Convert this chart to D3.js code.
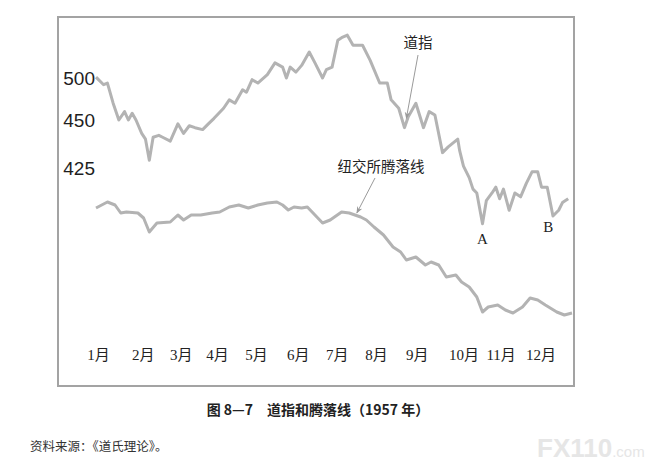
<!DOCTYPE html>
<html>
<head>
<meta charset="utf-8">
<script src="https://cdn.jsdelivr.net/npm/d3@7"></script>
<style>
  body { margin: 0; background: #fff; }
  svg { display: block; }
</style>
</head>
<body>
<div id="chart"></div>
<script>
// trading-day index (0..250) for each point
var dowDays = [0, 4, 6, 9, 12, 15, 17, 19, 21, 24, 26, 28, 30, 33, 35, 39, 43, 46, 49, 52,
    56, 59, 62, 67, 70, 73, 77, 79, 82, 85, 90, 94, 98, 100, 102, 105, 108, 112, 115, 119,
    121, 124, 127, 129, 132, 135, 140, 144, 149, 153, 155, 159, 162, 164, 168, 172, 175, 178,
    182, 185, 190, 191, 193, 196, 198, 200, 203, 205, 208, 210, 212, 214, 217, 220, 223,
    226, 229, 232, 234, 237, 240, 243, 245, 248];
var dowValues = [501, 492, 494, 470, 450, 460, 450, 458, 450, 443, 440, 429, 441, 442, 441, 439, 448, 443, 447, 446,
    445, 448, 452, 464, 474, 470, 486, 483, 498, 494, 504, 518, 513, 500, 513, 507, 515, 531, 518, 500,
    510, 513, 545, 548, 551, 539, 539, 521, 494, 494, 474, 464, 446, 454, 470, 446, 460, 456,
    433, 436, 440, 434, 426, 420, 414, 412, 396, 408, 412, 415, 409, 414, 403, 412, 410,
    417, 423, 423, 415, 415, 400, 403, 407, 409];

var adDays = [0, 6, 10, 13, 16, 22, 25, 28, 32, 39, 43, 46, 50, 55, 61, 65, 70, 75, 80, 85,
    90, 95, 98, 101, 104, 108, 111, 114, 119, 123, 129, 133, 139, 142, 146, 151, 156, 160,
    163, 168, 173, 176, 180, 184, 189, 192, 196, 200, 203, 206, 211, 215, 219, 224, 228,
    232, 236, 242, 246, 250];
var adValues = [0.5, 3.5, 2, -2, -1.5, -2, -4.5, -11.5, -7, -6.5, -3, -5.5, -3, -3, -2, -1.5, 1, 2, 0.5, 2,
    3, 3.5, 2, -0.5, 1, 0.5, 1, -2, -7, -5.5, -1.5, -2, -4, -5.5, -9, -13, -19, -21.5,
    -25.5, -24, -28, -26.5, -28, -34, -33, -36.5, -39, -44, -51.5, -49, -48, -50.5, -52, -49, -44.5,
    -45.5, -48, -51.5, -53, -52];

var monthLabels = ["1月", "2月", "3月", "4月", "5月", "6月", "7月", "8月", "9月", "10月", "11月", "12月"];
var monthDays = [1, 24.5, 44.5, 63.5, 84, 106, 126.5, 147, 168.5, 193, 212.5, 233.5];
var dowTicks = [500, 450, 425];

var svgWidth = 649;
var svgHeight = 466;

var svg = d3.select("#chart")
    .append("svg")
    .attr("width", svgWidth)
    .attr("height", svgHeight);

var serif = "'Liberation Serif', 'Noto Sans CJK SC', serif";
var cjk = "'Noto Sans CJK SC', 'Liberation Serif', sans-serif";

// frame
svg.append("rect")
    .attr("x", 58)
    .attr("y", 17)
    .attr("width", 516)
    .attr("height", 369)
    .attr("fill", "none")
    .attr("stroke", "#a3a3a3")
    .attr("stroke-width", 2);

var xScale = d3.scaleLinear()
    .domain([0, 250])
    .range([96, 572]);

// the printed scale is not even, so use a piecewise scale through the labels
var yDow = d3.scaleLinear()
    .domain([425, 450, 500])
    .range([168, 120, 78]);

var yAD = d3.scaleLinear()
    .domain([0, -60])
    .range([209, 329]);

var leftAxis = d3.axisLeft(yDow)
    .tickValues(dowTicks)
    .tickSize(0)
    .tickPadding(1);

var yAxis = svg.append("g")
    .attr("transform", "translate(96, 0)")
    .call(leftAxis);
yAxis.select(".domain").remove();
yAxis.selectAll("text")
    .attr("font-family", "'Liberation Sans', sans-serif")
    .attr("font-size", 19)
    .attr("fill", "#1e1e1e");

var bottomAxis = d3.axisBottom(xScale)
    .tickValues(monthDays)
    .tickFormat((d, i) => monthLabels[i])
    .tickSize(0)
    .tickPadding(0);

var xAxis = svg.append("g")
    .attr("transform", "translate(0, 349)")
    .call(bottomAxis);
xAxis.select(".domain").remove();
xAxis.selectAll("text")
    .attr("font-family", serif)
    .attr("font-size", 15)
    .attr("fill", "#222");

var dowLine = d3.line()
    .x((d, i) => xScale(dowDays[i]))
    .y(d => yDow(d));

var adLine = d3.line()
    .x((d, i) => xScale(adDays[i]))
    .y(d => yAD(d));

svg.append("path")
    .attr("d", dowLine(dowValues))
    .attr("fill", "none")
    .attr("stroke", "#b3b3b3")
    .attr("stroke-width", 3)
    .attr("stroke-linejoin", "round");

svg.append("path")
    .attr("d", adLine(adValues))
    .attr("fill", "none")
    .attr("stroke", "#b3b3b3")
    .attr("stroke-width", 3)
    .attr("stroke-linejoin", "round");

// arrow marker
svg.append("defs").append("marker")
    .attr("id", "arrow")
    .attr("viewBox", "0 0 10 10")
    .attr("refX", 9)
    .attr("refY", 5)
    .attr("markerWidth", 7)
    .attr("markerHeight", 7)
    .attr("orient", "auto")
    .append("path")
    .attr("d", "M0,1 L10,5 L0,9 L3,5 Z")
    .attr("fill", "#9a9a9a");

// annotations, anchored to data points
var dowNote = { day: 163, value: 452 };
var adNote = { day: 137, value: -2 };

svg.append("line")
    .attr("x1", 418).attr("y1", 55)
    .attr("x2", xScale(dowNote.day)).attr("y2", yDow(dowNote.value))
    .attr("stroke", "#9a9a9a")
    .attr("stroke-width", 1)
    .attr("marker-end", "url(#arrow)");

svg.append("line")
    .attr("x1", 375).attr("y1", 178)
    .attr("x2", xScale(adNote.day)).attr("y2", yAD(adNote.value))
    .attr("stroke", "#9a9a9a")
    .attr("stroke-width", 1)
    .attr("marker-end", "url(#arrow)");

svg.append("text")
    .attr("x", 418)
    .attr("y", 48)
    .attr("text-anchor", "middle")
    .attr("font-family", cjk)
    .attr("font-size", 14.5)
    .attr("fill", "#222")
    .text("道指");

svg.append("text")
    .attr("x", 381)
    .attr("y", 172)
    .attr("text-anchor", "middle")
    .attr("font-family", cjk)
    .attr("font-size", 14.5)
    .attr("fill", "#222")
    .text("纽交所腾落线");

// A and B lows
svg.append("text")
    .attr("x", xScale(203))
    .attr("y", 244)
    .attr("text-anchor", "middle")
    .attr("font-family", serif)
    .attr("font-size", 15)
    .attr("fill", "#222")
    .text("A");

svg.append("text")
    .attr("x", xScale(237.5))
    .attr("y", 232)
    .attr("text-anchor", "middle")
    .attr("font-family", serif)
    .attr("font-size", 15)
    .attr("fill", "#222")
    .text("B");

// caption
svg.append("text")
    .attr("x", 318)
    .attr("y", 415)
    .attr("text-anchor", "middle")
    .attr("font-family", cjk)
    .attr("font-weight", "bold")
    .attr("font-size", 14)
    .attr("fill", "#222")
    .text("图 8—7　道指和腾落线（1957 年）");

svg.append("text")
    .attr("x", 30)
    .attr("y", 451)
    .attr("font-family", cjk)
    .attr("font-size", 12.5)
    .attr("fill", "#333")
    .text("资料来源：《道氏理论》。");

svg.append("text")
    .attr("x", 537)
    .attr("y", 457)
    .attr("font-family", "'Liberation Sans', sans-serif")
    .attr("font-weight", "bold")
    .attr("font-size", 26)
    .attr("fill", "#e6e6e6")
    .text("FX110")
    .append("tspan")
    .attr("font-size", 15)
    .attr("font-weight", "normal")
    .text(".com");
</script>
</body>
</html>
